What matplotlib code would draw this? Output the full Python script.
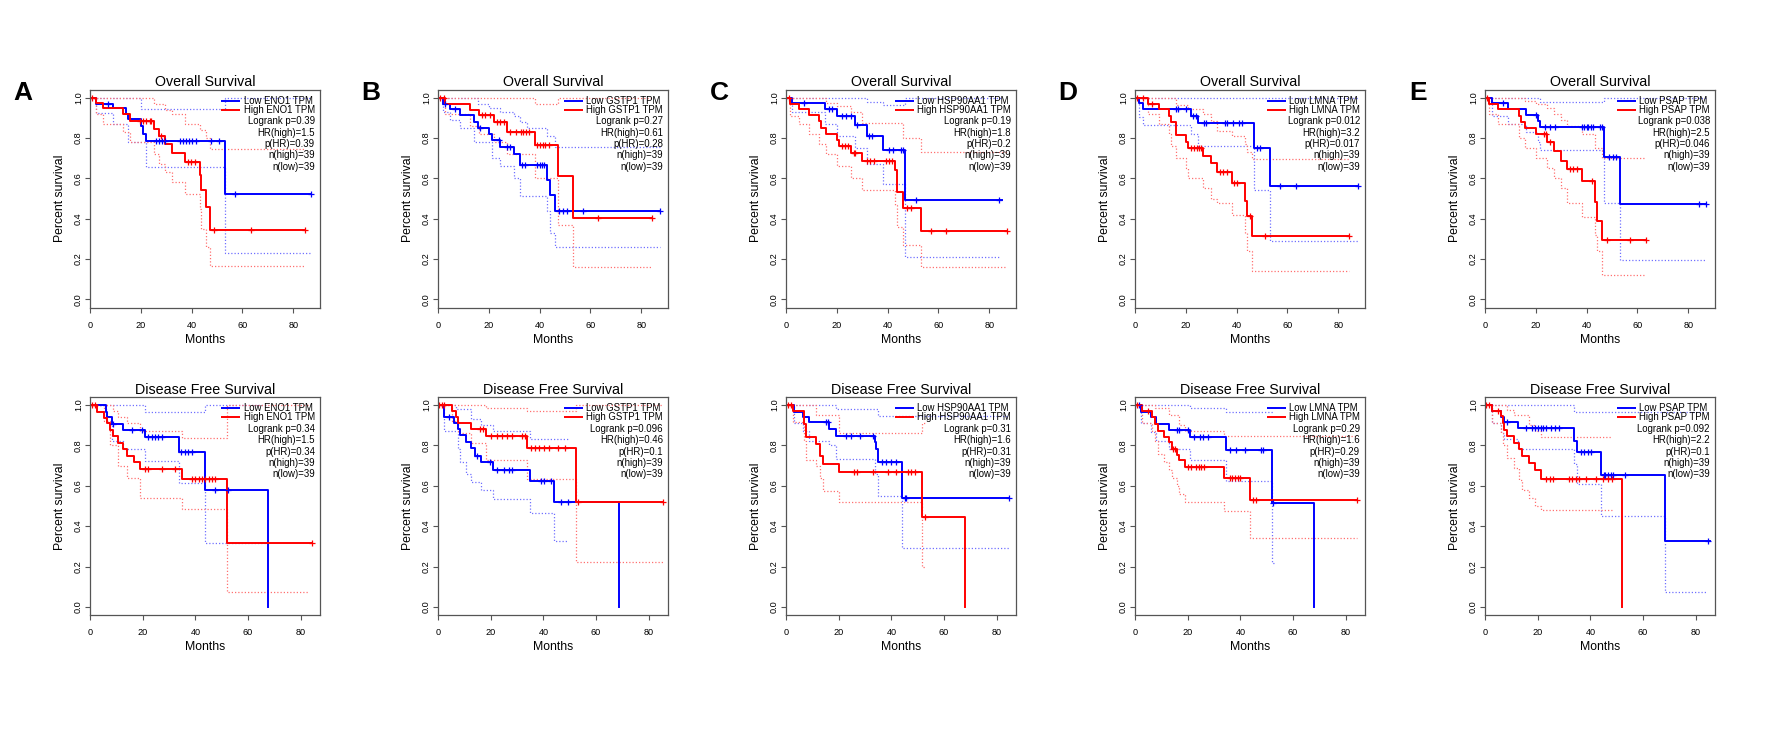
import numpy as np
import matplotlib
matplotlib.use("Agg")
import matplotlib.pyplot as plt

plt.rcParams["font.family"] = ["Liberation Sans", "DejaVu Sans"]

# ---- data: (months, survival) step points ----
genes = ["ENO1", "GSTP1", "HSP90AA1", "LMNA", "PSAP"]
letters = ["A", "B", "C", "D", "E"]
# (logrank p, HR(high), p(HR))
os_stats = [("0.39", "1.5", "0.39"), ("0.27", "0.61", "0.28"), ("0.19", "1.8", "0.2"),
            ("0.012", "3.2", "0.017"), ("0.038", "2.5", "0.046")]
dfs_stats = [("0.34", "1.5", "0.34"), ("0.096", "0.46", "0.1"), ("0.31", "1.6", "0.31"),
             ("0.29", "1.6", "0.29"), ("0.092", "2.2", "0.1")]
n_high = 39
n_low = 39

# ENO1
eno1_os_low = [(0, 1), (2.2, .97), (9.1, .946), (14, .92), (15, .895), (20.2, .86), (20.9, .82),
               (21.9, .785), (53.1, .524), (87.1, .524)]
eno1_os_low_cens = [7.1, 25.8, 27.1, 28.5, 29.7, 35.3, 36.6, 37.9, 39.0, 40.3, 41.6, 47.8, 50.8, 57, 87.1]
eno1_os_high = [(0, 1), (2.5, .974), (5.1, .946), (13, .92), (15.6, .885), (25.1, .846), (27.2, .808),
                (29.7, .77), (32.4, .725), (37.3, .68), (43.2, .615), (43.8, .54), (45.8, .46),
                (47.1, .346), (84.5, .346)]
eno1_os_high_cens = [0.8, 19.5, 20.9, 22.2, 23.5, 24.1, 28, 38.6, 39.9, 41.2, 48.8, 63.3, 84.5]
eno1_os_low_lo = [(0, 1), (2.2, .925), (9.1, .87), (15, .78), (21.9, .655), (53.1, .23), (87.1, .23)]
eno1_os_low_up = [(0, 1), (20.2, .945), (53.1, 1.0), (87.1, 1.0)]
eno1_os_high_lo = [(0, 1), (2.5, .92), (5.1, .87), (13, .83), (15.6, .78), (25.1, .72), (27.2, .67),
                   (29.7, .63), (32.4, .58), (37.3, .52), (43.2, .45), (43.8, .35), (45.8, .26),
                   (47.1, .165), (84.5, .165)]
eno1_os_high_up = [(0, 1), (25.1, .97), (29.7, .94), (32.4, .92), (37.3, .87), (43.2, .84),
                   (45.8, .80), (47.1, .745), (84.5, .745)]

eno1_dfs_low = [(0, 1), (5.9, .967), (6.3, .943), (8.5, .907), (12.7, .877), (20.9, .84), (33.8, .77),
                (43.7, .58), (67.7, 0.0)]
eno1_dfs_low_cens = [8.9, 15.8, 19.6, 22.2, 23.4, 24.7, 26.0, 27.2, 34.6, 36.1, 37.3, 38.6, 47.5, 52.5]
eno1_dfs_high = [(0, 1), (2.8, .967), (5.4, .935), (6.3, .91), (7.6, .875), (8.9, .845), (10.8, .81),
                 (12.7, .78), (13.9, .75), (16.8, .72), (19.0, .685), (34.8, .635), (51.9, .315),
                 (84.2, .315)]
eno1_dfs_high_cens = [0.6, 1.9, 20.9, 22.2, 27.2, 32.3, 38.6, 39.9, 41.2, 42.4, 43.7, 45.0, 46.3, 47.5, 84.2]
eno1_dfs_low_lo = [(0, 1), (5.9, .92), (8.5, .82), (12.7, .78), (20.9, .725), (33.8, .615), (43.7, .315),
                   (67.7, .315)]
eno1_dfs_low_up = [(0, 1), (20.9, .967), (43.7, 1.0), (67.7, 1.0)]
eno1_dfs_high_lo = [(0, 1), (5.4, .92), (7.6, .8), (10.8, .7), (13.9, .64), (19.0, .54), (34.8, .485),
                    (51.9, .075), (83, .075)]
eno1_dfs_high_up = [(0, 1), (8.9, .97), (10.8, .94), (13.9, .91), (19.0, .87), (34.8, .835),
                    (51.9, 1.0), (83, 1.0)]

# GSTP1
gstp1_os_low = [(0, 1), (2, .97), (4.9, .945), (8.8, .915), (14, .88), (15.6, .85), (19.9, .82),
                (21.3, .79), (24.5, .755), (29.8, .72), (32.4, .665), (42.9, .59), (44.2, .515),
                (45.9, .44), (87.5, .44)]
gstp1_os_low_cens = [2.9, 6.8, 16.7, 23.9, 27.2, 28.2, 33.1, 34.4, 39.0, 40.0, 40.9, 41.6, 47.5, 49.2,
                     50.8, 57.1, 87.5]
gstp1_os_high = [(0, 1), (2.9, .97), (12.7, .94), (16, .915), (22.2, .88), (27.2, .83), (38, .765),
                 (47.1, .61), (53, .405), (84.2, .405)]
gstp1_os_high_cens = [0.9, 2.2, 17.3, 18.6, 20.6, 23.2, 24.5, 25.8, 28.5, 30.5, 32.5, 33.6, 34.5, 35.7,
                      39.0, 40.3, 41.3, 42.2, 43.6, 62.8, 84.2]
gstp1_os_low_lo = [(0, 1), (2, .93), (4.9, .89), (8.8, .85), (14, .78), (21.3, .7), (24.5, .66),
                   (29.8, .6), (32.4, .51), (42.9, .44), (44.2, .33), (45.9, .26), (87.5, .26)]
gstp1_os_low_up = [(0, 1), (15.6, .97), (19.9, .95), (24.5, .93), (29.8, .91), (32.4, .88), (35, .85),
                   (42.9, .81), (45.9, .755), (87.5, .755)]
gstp1_os_high_lo = [(0, 1), (2.9, .92), (12.7, .86), (16, .82), (22.2, .78), (27.2, .72), (38, .6),
                    (47.1, .37), (53, .16), (84.2, .16)]
gstp1_os_high_up = [(0, 1), (38, .97), (47.1, 1.0), (84.2, 1.0)]

gstp1_dfs_low = [(0, 1), (2.3, .94), (6.2, .91), (7.5, .88), (8.4, .85), (10.7, .815), (12.6, .785),
                 (13.9, .75), (16.5, .72), (21, .68), (35, .625), (44.2, .52), (68.8, 0.0)]
gstp1_dfs_low_cens = [4.3, 14.8, 19.7, 22.3, 24.9, 26.8, 28.1, 39.1, 40.4, 43.0, 46.6, 49.4]
gstp1_dfs_high = [(0, 1), (5.5, .97), (6.8, .94), (7.5, .91), (12.6, .88), (18.4, .845), (33.9, .785),
                  (52.4, .52), (85.5, .52)]
gstp1_dfs_high_cens = [0.4, 1.4, 2.3, 15.9, 16.9, 20.0, 22.3, 24.3, 26.2, 28.1, 32.0, 32.9, 35.2, 36.8,
                       38.4, 40.4, 42.3, 45.5, 48.1, 53.3, 85.5]
gstp1_dfs_low_lo = [(0, 1), (2.3, .87), (7.5, .78), (8.4, .72), (10.7, .66), (12.6, .62), (16.5, .58),
                    (21, .535), (35, .465), (44.2, .325), (49.4, .325)]
gstp1_dfs_low_up = [(0, 1), (7, .98), (12.6, .93), (16.5, .9), (21, .87), (35, .83), (49.4, .83)]
gstp1_dfs_high_lo = [(0, 1), (5.5, .92), (7.5, .86), (12.6, .81), (18.4, .73), (33.9, .635),
                     (52.4, .225), (85.5, .225)]
gstp1_dfs_high_up = [(0, 1), (18.4, .985), (33.9, .97), (52.4, 1.0), (85.5, 1.0)]

# HSP90AA1
hsp_os_low = [(0, 1), (2.4, .975), (15.5, .945), (20.1, .91), (27.3, .865), (31.9, .81), (38.1, .74),
              (47, .495), (85, .495)]
hsp_os_low_cens = [7.0, 16.8, 18.1, 22.1, 23.8, 25.4, 28.0, 32.6, 33.9, 40.5, 42.2, 45.1, 46.1, 51.0, 84]
hsp_os_high = [(0, 1), (1.7, .97), (5, .945), (8.9, .915), (13.1, .885), (13.8, .85), (15.9, .82),
               (20.1, .79), (21, .76), (25.4, .725), (30, .685), (42.7, .64), (43.8, .53), (46, .455),
               (53, .34), (87.1, .34)]
hsp_os_high_cens = [1.1, 22.1, 23.4, 24.3, 26.7, 27.3, 31.9, 33.2, 34.6, 39.2, 40.5, 41.8, 47.7, 49.0,
                    57.2, 63.1, 87.1]
hsp_os_low_lo = [(0, 1), (2.4, .93), (15.5, .87), (20.1, .81), (27.3, .75), (31.9, .67), (38.1, .57),
                 (47, .21), (84, .21)]
hsp_os_low_up = [(0, 1), (31.9, .98), (38.1, .965), (47, 1.0), (85, 1.0)]
hsp_os_high_lo = [(0, 1), (1.7, .91), (5, .87), (8.9, .82), (13.1, .77), (15.9, .72), (20.1, .66),
                  (25.4, .6), (30, .54), (42.7, .47), (43.8, .36), (46, .27), (53, .16), (87.1, .16)]
hsp_os_high_up = [(0, 1), (15.9, .975), (20.1, .96), (25.4, .93), (30, .875), (46, .8), (53, .73),
                  (87.1, .73)]

hsp_dfs_low = [(0, 1), (3.2, .968), (6.4, .94), (8.9, .915), (16.5, .883), (19, .848), (33.7, .817),
               (34.3, .78), (34.9, .718), (44.1, .539), (84.5, .539)]
hsp_dfs_low_cens = [15.0, 15.9, 22.6, 24.8, 27.9, 33.0, 36.6, 38.1, 40.0, 41.9, 45.1, 45.7, 84.5]
hsp_dfs_high = [(0, 1), (2.5, .97), (6.7, .906), (7.6, .84), (11.2, .808), (13, .746), (14, .706),
                (20.3, .67), (51.8, .445), (68.1, 0.0)]
hsp_dfs_high_cens = [0.9, 1.9, 26.0, 26.9, 33.0, 38.7, 41.9, 46.4, 47.6, 48.9, 52.7]
hsp_dfs_low_lo = [(0, 1), (3.2, .91), (6.4, .87), (8.9, .82), (16.5, .8), (19, .735), (33.7, .66),
                  (34.9, .55), (44.1, .29), (84.5, .29)]
hsp_dfs_low_up = [(0, 1), (19, .98), (34.9, .945), (84.5, .945)]
hsp_dfs_high_lo = [(0, 1), (2.5, .915), (6.7, .82), (7.6, .73), (11.2, .7), (13, .64), (14, .575),
                   (20.3, .52), (51.8, .197), (52.7, .197)]
hsp_dfs_high_up = [(0, 1), (11.2, .95), (20.3, .86), (51.8, .91), (52.7, .91)]

# LMNA
lmna_os_low = [(0, 1), (1.7, .971), (3, .945), (22.2, .91), (24.9, .873), (46.7, .749), (53, .561),
               (87.6, .561)]
lmna_os_low_cens = [16.3, 16.9, 20.0, 22.9, 23.9, 27.1, 27.9, 35.4, 36.1, 38.7, 41.1, 42.0, 48.0, 49.0,
                    57.0, 63.2, 87.6]
lmna_os_high = [(0, 1), (5, .97), (9.3, .945), (13.2, .91), (14, .88), (16, .816), (20.2, .78),
                (20.9, .749), (26.8, .713), (29.9, .674), (32.1, .633), (38.1, .579), (43.1, .487),
                (44, .415), (46, .312), (84.3, .312)]
lmna_os_high_cens = [0.7, 3.0, 6.7, 22.2, 23.1, 24.2, 25.1, 25.8, 33.4, 34.8, 36.1, 39.0, 40.0, 45.3,
                     51.0, 84.3]
lmna_os_low_lo = [(0, 1), (1.7, .905), (3, .865), (22.2, .82), (24.9, .76), (46.7, .54), (53, .29),
                  (87.6, .29)]
lmna_os_low_up = [(0, 1), (87.6, 1.0)]
lmna_os_high_lo = [(0, 1), (5, .92), (9.3, .87), (13.2, .82), (14, .76), (16, .7), (20.2, .65),
                   (20.9, .6), (26.8, .55), (29.9, .5), (32.1, .478), (38.1, .42), (43.1, .33),
                   (44, .24), (46, .14), (84.3, .14)]
lmna_os_high_up = [(0, 1), (16, .963), (20.9, .945), (26.8, .92), (29.9, .885), (32.1, .834),
                   (38.1, .81), (43.1, .77), (44, .73), (46, .695), (84.3, .695)]

lmna_dfs_low = [(0, 1), (2.2, .968), (6, .941), (7.9, .906), (13, .875), (21, .84), (34.7, .775),
                (51.9, .513), (67.8, 0.0)]
lmna_dfs_low_cens = [1.5, 15.9, 16.8, 20.0, 22.5, 24.5, 26.0, 27.6, 35.9, 38.5, 41.7, 48.0, 48.7, 52.5]
lmna_dfs_high = [(0, 1), (2.8, .97), (6.6, .94), (7.6, .905), (8.8, .87), (11.1, .84), (13, .815),
                 (14, .78), (15.8, .755), (16.8, .73), (19.1, .692), (33.8, .638), (43.8, .531),
                 (84.1, .531)]
lmna_dfs_high_cens = [0.9, 5.0, 14.5, 15.3, 20.0, 21.3, 23.2, 24.2, 25.1, 26.1, 35.9, 36.9, 37.8, 39.1,
                      39.7, 44.8, 45.9, 84.1]
lmna_dfs_low_lo = [(0, 1), (2.2, .91), (6, .865), (7.9, .82), (13, .78), (21, .73), (34.7, .625),
                   (51.9, .22), (52.8, .22)]
lmna_dfs_low_up = [(0, 1), (21, .985), (34.7, .965), (52.8, .965)]
lmna_dfs_high_lo = [(0, 1), (2.8, .91), (6.6, .87), (7.6, .82), (8.8, .76), (11.1, .72), (13, .68),
                    (14, .64), (15.8, .6), (16.8, .56), (19.1, .52), (33.8, .475), (43.8, .34),
                    (84.1, .34)]
lmna_dfs_high_up = [(0, 1), (7.6, .985), (13, .95), (16.8, .9), (19.1, .87), (33.8, .845), (84.1, .845)]

# PSAP
psap_os_low = [(0, 1), (2.9, .972), (9.1, .942), (16.2, .912), (20.7, .884), (21.8, .854), (46.9, .708),
               (53.1, .472), (87, .472)]
psap_os_low_cens = [7.2, 20.2, 23.8, 25.4, 27.7, 38.1, 39.0, 40.0, 40.7, 41.6, 42.3, 45.3, 45.9, 48.9,
                    50.2, 51.5, 84.2, 87.0]
psap_os_high = [(0, 1), (1.6, .97), (5.2, .942), (13.3, .91), (14, .877), (15.9, .849), (20.2, .819),
                (24.4, .778), (27, .734), (30, .687), (32.2, .646), (38.1, .585), (43.1, .484),
                (44, .391), (45.9, .292), (63.3, .292)]
psap_os_high_cens = [0.7, 23.1, 24.1, 25.7, 33.5, 34.8, 36.1, 42.0, 47.9, 57.0, 63.3]
psap_os_low_lo = [(0, 1), (2.9, .91), (9.1, .87), (16.2, .83), (20.7, .78), (21.8, .74), (46.9, .48),
                  (53.1, .195), (87, .195)]
psap_os_low_up = [(0, 1), (21.8, .98), (46.9, 1.0), (87, 1.0)]
psap_os_high_lo = [(0, 1), (1.6, .92), (5.2, .87), (13.3, .8), (15.9, .75), (20.2, .7), (24.4, .65),
                   (27, .6), (30, .55), (32.2, .48), (38.1, .41), (43.1, .32), (44, .24), (45.9, .12),
                   (63.3, .12)]
psap_os_high_up = [(0, 1), (15.9, .985), (20.2, .97), (24.4, .95), (27, .92), (30, .89), (32.2, .86),
                   (38.1, .82), (43.1, .75), (45.9, .70), (63.3, .70)]

psap_dfs_low = [(0, 1), (2.8, .97), (6, .94), (7.2, .914), (12.7, .885), (33.9, .824), (34.9, .767),
                (44.1, .656), (68.2, .326), (85.3, .326)]
psap_dfs_low_cens = [8.5, 15.5, 17.8, 19.1, 20.0, 21.3, 21.9, 23.2, 25.0, 26.7, 28.0, 36.4, 37.7, 39.0,
                     40.3, 45.0, 45.7, 46.6, 47.9, 48.5, 53.0, 84.7]
psap_dfs_high = [(0, 1), (2.8, .97), (6, .945), (6.9, .91), (7.2, .875), (8.5, .847), (11, .81),
                 (13, .78), (14, .75), (16.8, .715), (19.1, .679), (21.2, .635), (52.1, 0.0)]
psap_dfs_high_cens = [0.5, 1.5, 5.1, 23.1, 24.6, 25.9, 32.0, 33.0, 34.5, 35.8, 38.4, 42.2, 44.7, 46.6, 48.3]
psap_dfs_low_lo = [(0, 1), (2.8, .91), (6, .86), (7.2, .83), (12.7, .78), (33.9, .71), (34.9, .61),
                   (44.1, .45), (68.2, .075), (84, .075)]
psap_dfs_low_up = [(0, 1), (33.9, .965), (84, .965)]
psap_dfs_high_lo = [(0, 1), (2.8, .91), (6, .86), (6.9, .8), (8.5, .74), (11, .69), (13, .63), (14, .58),
                    (16.8, .54), (19.1, .5), (21.2, .48), (48.3, .48)]
psap_dfs_high_up = [(0, 1), (8.5, .975), (11, .95), (16.8, .9), (19.1, .87), (21.2, .84), (48.3, .84)]

os_panels = [
    (eno1_os_low, eno1_os_low_cens, eno1_os_low_lo, eno1_os_low_up,
     eno1_os_high, eno1_os_high_cens, eno1_os_high_lo, eno1_os_high_up),
    (gstp1_os_low, gstp1_os_low_cens, gstp1_os_low_lo, gstp1_os_low_up,
     gstp1_os_high, gstp1_os_high_cens, gstp1_os_high_lo, gstp1_os_high_up),
    (hsp_os_low, hsp_os_low_cens, hsp_os_low_lo, hsp_os_low_up,
     hsp_os_high, hsp_os_high_cens, hsp_os_high_lo, hsp_os_high_up),
    (lmna_os_low, lmna_os_low_cens, lmna_os_low_lo, lmna_os_low_up,
     lmna_os_high, lmna_os_high_cens, lmna_os_high_lo, lmna_os_high_up),
    (psap_os_low, psap_os_low_cens, psap_os_low_lo, psap_os_low_up,
     psap_os_high, psap_os_high_cens, psap_os_high_lo, psap_os_high_up),
]
dfs_panels = [
    (eno1_dfs_low, eno1_dfs_low_cens, eno1_dfs_low_lo, eno1_dfs_low_up,
     eno1_dfs_high, eno1_dfs_high_cens, eno1_dfs_high_lo, eno1_dfs_high_up),
    (gstp1_dfs_low, gstp1_dfs_low_cens, gstp1_dfs_low_lo, gstp1_dfs_low_up,
     gstp1_dfs_high, gstp1_dfs_high_cens, gstp1_dfs_high_lo, gstp1_dfs_high_up),
    (hsp_dfs_low, hsp_dfs_low_cens, hsp_dfs_low_lo, hsp_dfs_low_up,
     hsp_dfs_high, hsp_dfs_high_cens, hsp_dfs_high_lo, hsp_dfs_high_up),
    (lmna_dfs_low, lmna_dfs_low_cens, lmna_dfs_low_lo, lmna_dfs_low_up,
     lmna_dfs_high, lmna_dfs_high_cens, lmna_dfs_high_lo, lmna_dfs_high_up),
    (psap_dfs_low, psap_dfs_low_cens, psap_dfs_low_lo, psap_dfs_low_up,
     psap_dfs_high, psap_dfs_high_cens, psap_dfs_high_lo, psap_dfs_high_up),
]

BLUE = "#0000ff"
RED = "#ff0000"
BLUE_CI = "#7070ff"
RED_CI = "#ff7070"
FRAME = "#555555"

W, H = 1774, 735
fig = plt.figure(figsize=(W / 100, H / 100), dpi=100)
renderer = fig.canvas.get_renderer()

col_left = [90, 438, 786, 1135, 1485]
box_w, box_h = 230, 218
row_top = [89.5, 397]


def step(ax, pairs, color, **kw):
    t = [p[0] for p in pairs]
    v = [p[1] for p in pairs]
    ax.step(t, v, where="post", color=color, **kw)


def value_at(pairs, t):
    ts = np.array([p[0] for p in pairs])
    vs = np.array([p[1] for p in pairs])
    i = np.searchsorted(ts, t, side="right") - 1
    return vs[max(i, 0)]


def draw_panel(ax, data, gene, stats, title, xmax):
    low, low_c, low_lo, low_up, high, high_c, high_lo, high_up = data
    ci_kw = dict(lw=0.9, linestyle=(0, (1, 1.6)))
    step(ax, low_lo, BLUE_CI, **ci_kw)
    step(ax, low_up, BLUE_CI, **ci_kw)
    step(ax, high_lo, RED_CI, **ci_kw)
    step(ax, high_up, RED_CI, **ci_kw)
    step(ax, low, BLUE, lw=1.4)
    step(ax, high, RED, lw=1.4)
    ax.plot(low_c, [value_at(low, t) for t in low_c], ls="none", marker="+",
            ms=5, mew=0.9, color=BLUE)
    ax.plot(high_c, [value_at(high, t) for t in high_c], ls="none", marker="+",
            ms=5, mew=0.9, color=RED)

    ax.set_xlim(0, xmax)
    ax.set_ylim(-0.04, 1.04)
    ax.set_xticks([0, 20, 40, 60, 80])
    ax.set_yticks([0, 0.2, 0.4, 0.6, 0.8, 1.0])
    ax.set_yticklabels(["0.0", "0.2", "0.4", "0.6", "0.8", "1.0"], rotation=90, va="center")
    ax.tick_params(axis="both", direction="out", length=3.6, width=0.8, color=FRAME, labelsize=6.6)
    ax.tick_params(axis="x", pad=6.0)
    ax.tick_params(axis="y", pad=1.5)
    for sp in ax.spines.values():
        sp.set_color(FRAME)
        sp.set_linewidth(0.9)
    ax.set_title(title, fontsize=10.3, pad=2.5)
    ax.set_xlabel("Months", fontsize=8.8, labelpad=3)
    ax.set_ylabel("Percent survival", fontsize=8.8, labelpad=6)

    fs = 6.9
    # legend: lines + labels, block anchored top right
    x_right = 1 - 5 / box_w
    y_low = 1 - 11 / box_h
    y_high = 1 - 20.3 / box_h
    th = ax.text(x_right, y_high, f"High {gene} TPM", transform=ax.transAxes,
                 ha="right", va="center", fontsize=fs)
    bb = th.get_window_extent(renderer=renderer).transformed(ax.transAxes.inverted())
    x_text = bb.x0
    ax.text(x_text, y_low, f"Low {gene} TPM", transform=ax.transAxes,
            ha="left", va="center", fontsize=fs)
    gap = 3.5 / box_w
    seg = 19 / box_w
    for yy, c in ((y_low, BLUE), (y_high, RED)):
        ax.plot([x_text - gap - seg, x_text - gap], [yy, yy], transform=ax.transAxes,
                color=c, lw=1.4, solid_capstyle="butt")
    lines = [f"Logrank p={stats[0]}", f"HR(high)={stats[1]}", f"p(HR)={stats[2]}",
             f"n(high)={n_high}", f"n(low)={n_low}"]
    for k, s in enumerate(lines):
        ax.text(x_right, 1 - (32 + 11.3 * k) / box_h, s, transform=ax.transAxes,
                ha="right", va="center", fontsize=fs)


for j in range(5):
    for r, (panels, stats, title, xmax) in enumerate(
            [(os_panels, os_stats, "Overall Survival", 90.5),
             (dfs_panels, dfs_stats, "Disease Free Survival", 87.3)]):
        left = col_left[j]
        top = row_top[r]
        ax = fig.add_axes([left / W, 1 - (top + box_h) / H, box_w / W, box_h / H])
        draw_panel(ax, panels[j], genes[j], stats[j], title, xmax)
    fig.text((col_left[j] - 67) / W, 1 - 93 / H, letters[j], fontsize=19,
             fontweight="bold", ha="center", va="center")

fig.savefig("out.png", dpi=100, facecolor="white")
